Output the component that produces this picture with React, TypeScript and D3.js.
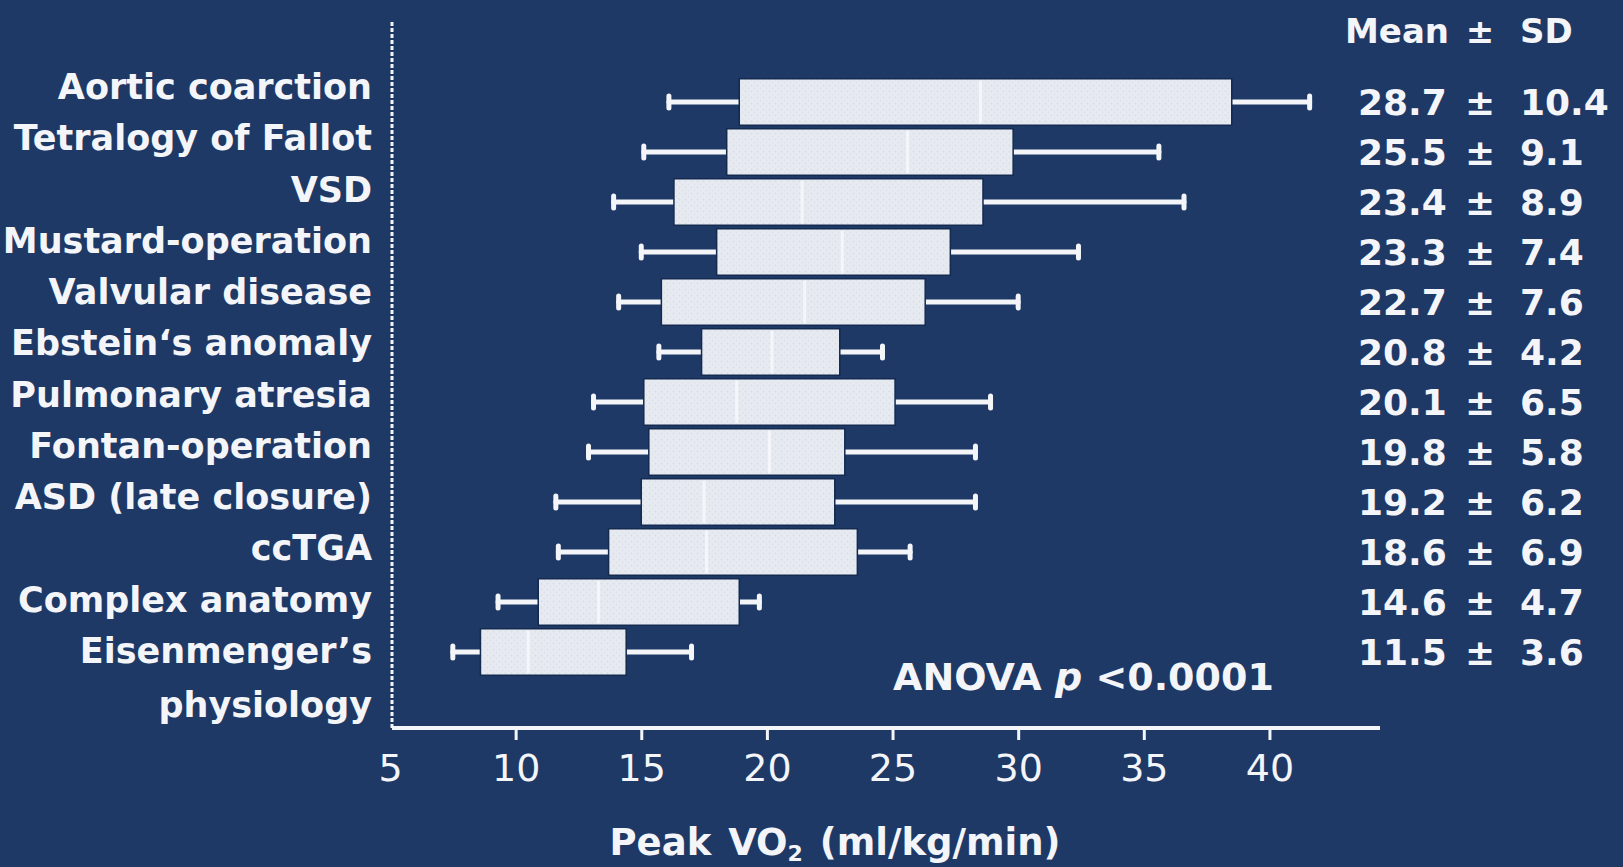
import React, { useEffect, useRef } from "react";
import * as d3 from "d3";

const categories = [
  "Aortic coarction",
  "Tetralogy of Fallot",
  "VSD",
  "Mustard-operation",
  "Valvular disease",
  "Ebstein‘s anomaly",
  "Pulmonary atresia",
  "Fontan-operation",
  "ASD (late closure)",
  "ccTGA",
  "Complex anatomy",
  "Eisenmenger’s|physiology",
];

const whiskerLow = [16.1, 15.1, 13.9, 15.0, 14.1, 15.7, 13.1, 12.9, 11.6, 11.7, 9.3, 7.5];
const boxLow = [18.9, 18.4, 16.3, 18.0, 15.8, 17.4, 15.1, 15.3, 15.0, 13.7, 10.9, 8.6];
const medians = [28.5, 25.6, 21.4, 23.0, 21.5, 20.2, 18.8, 20.1, 17.5, 17.6, 13.3, 10.5];
const boxHigh = [38.5, 29.8, 28.6, 27.3, 26.3, 22.9, 25.1, 23.1, 22.7, 23.6, 18.9, 14.4];
const whiskerHigh = [41.6, 35.6, 36.6, 32.4, 30.0, 24.6, 28.9, 28.3, 28.3, 25.7, 19.7, 17.0];

const meanLabels = ["28.7", "25.5", "23.4", "23.3", "22.7", "20.8", "20.1", "19.8", "19.2", "18.6", "14.6", "11.5"];
const sdLabels = ["10.4", "9.1", "8.9", "7.4", "7.6", "4.2", "6.5", "5.8", "6.2", "6.9", "4.7", "3.6"];

const xTicks = [5, 10, 15, 20, 25, 30, 35, 40];

const W = 1623;
const H = 867;
const BG = "#1f3967";
const FG = "#f3f5f9";
const FONT = "'DejaVu Sans', sans-serif";

const App = () => {
  const svgRef = useRef<SVGSVGElement>(null);

  useEffect(() => {
    const svg = d3.select(svgRef.current);
    svg.selectAll("*").remove();

    const x = d3.scaleLinear().domain([5, 44.4]).range([390, 1380]);
    const y = d3.scalePoint().domain(categories).range([102, 652]);
    const labelY = d3.scalePoint().domain(categories).range([99, 663]);
    const valueY = d3.scalePoint().domain(categories).range([115, 665]);
    const boxH = y.step() * 0.93;
    const axisY = 728;

    svg.append("rect").attr("width", W).attr("height", H).attr("fill", BG);

    // box texture
    const defs = svg.append("defs");
    const pat = defs
      .append("pattern")
      .attr("id", "tex")
      .attr("width", 6)
      .attr("height", 6)
      .attr("patternUnits", "userSpaceOnUse");
    pat.append("rect").attr("width", 6).attr("height", 6).attr("fill", "#e7ebf1");
    pat.append("circle").attr("cx", 1.5).attr("cy", 1.5).attr("r", 1).attr("fill", "#d8dee8");
    pat.append("circle").attr("cx", 4.5).attr("cy", 4.5).attr("r", 1).attr("fill", "#dde2eb");

    const rows = categories.map((c, i) => ({
      c,
      wl: whiskerLow[i],
      bl: boxLow[i],
      md: medians[i],
      bh: boxHigh[i],
      wh: whiskerHigh[i],
    }));

    const g = svg.append("g");

    // whiskers
    const wg = g
      .selectAll(".whisker")
      .data(rows)
      .enter()
      .append("g")
      .attr("class", "whisker")
      .attr("stroke", FG)
      .attr("stroke-width", 5)
      .attr("stroke-linecap", "round");
    wg.append("line")
      .attr("x1", (d) => x(d.wl))
      .attr("x2", (d) => x(d.bl))
      .attr("y1", (d) => y(d.c)!)
      .attr("y2", (d) => y(d.c)!);
    wg.append("line")
      .attr("x1", (d) => x(d.bh))
      .attr("x2", (d) => x(d.wh))
      .attr("y1", (d) => y(d.c)!)
      .attr("y2", (d) => y(d.c)!);
    wg.append("line")
      .attr("x1", (d) => x(d.wl))
      .attr("x2", (d) => x(d.wl))
      .attr("y1", (d) => y(d.c)! - 6)
      .attr("y2", (d) => y(d.c)! + 6);
    wg.append("line")
      .attr("x1", (d) => x(d.wh))
      .attr("x2", (d) => x(d.wh))
      .attr("y1", (d) => y(d.c)! - 6)
      .attr("y2", (d) => y(d.c)! + 6);

    // boxes
    g.selectAll(".box")
      .data(rows)
      .enter()
      .append("rect")
      .attr("class", "box")
      .attr("x", (d) => x(d.bl))
      .attr("y", (d) => y(d.c)! - boxH / 2)
      .attr("width", (d) => x(d.bh) - x(d.bl))
      .attr("height", boxH)
      .attr("fill", "url(#tex)")
      .attr("stroke", "#142a4e")
      .attr("stroke-width", 1.5);

    // faint median lines
    g.selectAll(".median")
      .data(rows)
      .enter()
      .append("line")
      .attr("class", "median")
      .attr("x1", (d) => x(d.md))
      .attr("x2", (d) => x(d.md))
      .attr("y1", (d) => y(d.c)! - boxH / 2 + 2)
      .attr("y2", (d) => y(d.c)! + boxH / 2 - 2)
      .attr("stroke", "#f4f6fa")
      .attr("stroke-width", 3);

    // y axis (dotted)
    svg.append("line")
      .attr("x1", 392)
      .attr("x2", 392)
      .attr("y1", 22)
      .attr("y2", axisY)
      .attr("stroke", FG)
      .attr("stroke-width", 3)
      .attr("stroke-dasharray", "4,2");

    // x axis
    const xAxis = svg
      .append("g")
      .attr("transform", `translate(0,${axisY})`)
      .call(
        d3
          .axisBottom(x)
          .tickValues(xTicks)
          .tickSize(12)
          .tickPadding(12)
          .tickFormat(d3.format("d"))
      );
    xAxis.select(".domain").attr("stroke", FG).attr("stroke-width", 4).attr("d", `M392,0H${x(44.4)}`);
    xAxis.selectAll(".tick line").attr("stroke", FG).attr("stroke-width", 3);
    xAxis.selectAll(".tick").filter((d) => d === 5).select("line").remove();
    xAxis
      .selectAll(".tick text")
      .attr("fill", FG)
      .attr("font-family", FONT)
      .attr("font-size", 38)
      .attr("dy", "0.75em");

    // axis title
    const title = svg
      .append("text")
      .attr("x", 835)
      .attr("y", 855)
      .attr("text-anchor", "middle")
      .attr("fill", FG)
      .attr("font-family", FONT)
      .attr("font-weight", "bold")
      .attr("font-size", 37)
      .attr("word-spacing", 4);
    title.append("tspan").text("Peak VO");
    title.append("tspan").attr("font-size", 22).attr("dy", 6).text("2");
    title.append("tspan").attr("dy", -6).text(" (ml/kg/min)");

    // category labels
    const lab = svg
      .selectAll(".cat")
      .data(categories)
      .enter()
      .append("text")
      .attr("class", "cat")
      .attr("x", 372)
      .attr("y", (d) => labelY(d)!)
      .attr("text-anchor", "end")
      .attr("fill", FG)
      .attr("font-family", FONT)
      .attr("font-weight", "bold")
      .attr("font-size", 35);
    lab.each(function (d) {
      const parts = d.split("|");
      const t = d3.select(this);
      parts.forEach((p, k) => {
        t.append("tspan")
          .attr("x", 372)
          .attr("dy", k === 0 ? 0 : 54)
          .text(p);
      });
    });

    // Mean ± SD column
    const hdr = svg
      .append("g")
      .attr("fill", FG)
      .attr("font-family", FONT)
      .attr("font-weight", "bold")
      .attr("font-size", 34);
    hdr.append("text").attr("x", 1345).attr("y", 43).text("Mean");
    hdr.append("text").attr("x", 1480).attr("y", 43).attr("text-anchor", "middle").text("±");
    hdr.append("text").attr("x", 1520).attr("y", 43).text("SD");

    const vals = svg
      .append("g")
      .attr("fill", FG)
      .attr("font-family", FONT)
      .attr("font-weight", "bold")
      .attr("font-size", 36);
    categories.forEach((c, i) => {
      const yy = valueY(c)!;
      vals.append("text").attr("x", 1358).attr("y", yy).text(meanLabels[i]);
      vals.append("text").attr("x", 1480).attr("y", yy).attr("text-anchor", "middle").text("±");
      vals.append("text").attr("x", 1520).attr("y", yy).text(sdLabels[i]);
    });

    // ANOVA note
    const anova = svg
      .append("text")
      .attr("x", 893)
      .attr("y", 690)
      .attr("fill", FG)
      .attr("font-family", FONT)
      .attr("font-weight", "bold")
      .attr("font-size", 38);
    anova.append("tspan").text("ANOVA ");
    anova.append("tspan").attr("font-style", "italic").text("p");
    anova.append("tspan").text(" <0.0001");
  }, []);

  return (
    <svg
      ref={svgRef}
      width={W}
      height={H}
      style={{ position: "absolute", left: 0, top: 0, display: "block" }}
    />
  );
};

export default App;
